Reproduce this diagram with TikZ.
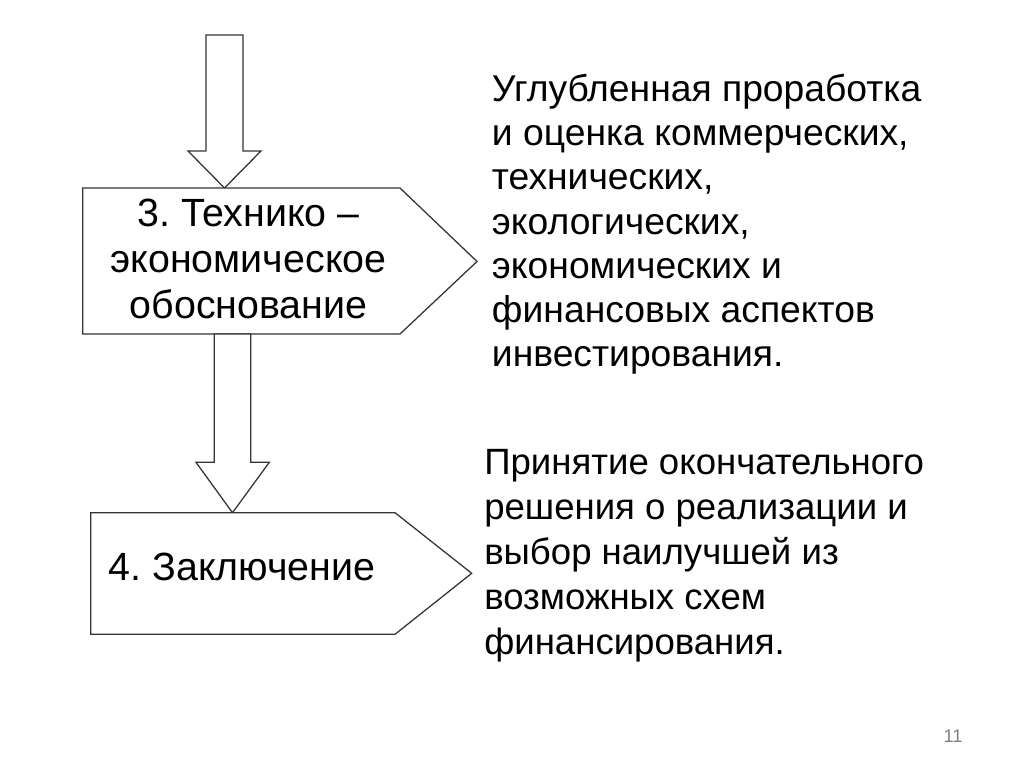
\documentclass[tikz,border=0pt]{standalone}
\usepackage{fontspec}
\setmainfont{Liberation Sans}
\usepackage{tikz}
\usetikzlibrary{positioning}
\frenchspacing

\begin{document}
\begin{tikzpicture}[x=0.025cm,y=-0.025cm,line join=miter]
	\tikzset{
		blk/.style={draw=black!80,line width=0.9pt,fill=white},
		txt/.style 2 args={inner sep=0pt,font=\fontsize{#1}{#2}\selectfont},
		txt/.default={28pt}{32.7pt},
	}
	\useasboundingbox (0,0) rectangle (1024,767);
	
	% верхняя стрелка
	\coordinate (A1) at (224.5,188);
	\draw[blk] (206,35) -- (243,35) -- (243,151) -- (261,151) -- (A1)
		-- (188,151) -- (206,151) -- cycle;
	
	% блок 3
	\draw[blk] (82.7,188) -- (400,188) -- (477,261.5) -- (400,334)
		-- (82.7,334) -- cycle;
	\node[txt={28pt}{32.7pt},align=center,anchor=north] (t3) at (248.5,198.5)
		{3. Технико --\\экономическое\\обоснование};
	
	% стрелка между блоками
	\coordinate (A2) at (232.5,512.7);
	\draw[blk] (214.3,334) -- (250.7,334) -- (250.7,462.3) -- (269.3,462.3)
		-- (A2) -- (196,462.3) -- (214.3,462.3) -- cycle;
	
	% блок 4
	\draw[blk] (90.7,512.7) -- (395,512.7) -- (471.7,573.3) -- (395,634.3)
		-- (90.7,634.3) -- cycle;
	\node[txt={28pt}{32.7pt},anchor=base west] (t4) at (108.3,580.7) {4. Заключение};
	
	% пояснения справа
	\node[txt={26.5pt}{31.4pt},align=left,anchor=north west] (r3) at (491.7,74)
		{Углубленная проработка\\и оценка коммерческих,\\технических,\\экологических,\\экономических и\\финансовых аспектов\\инвестирования.};
	\node[txt={26pt}{32.1pt},align=left,anchor=north west] (r4) at (484,449)
		{Принятие окончательного\\решения о реализации и\\выбор наилучшей из\\возможных схем\\финансирования.};
	
	\node[inner sep=0pt,text=black!50,font=\fontsize{13}{15}\selectfont] (pg) at (953,736) {11};
\end{tikzpicture}
\end{document}
